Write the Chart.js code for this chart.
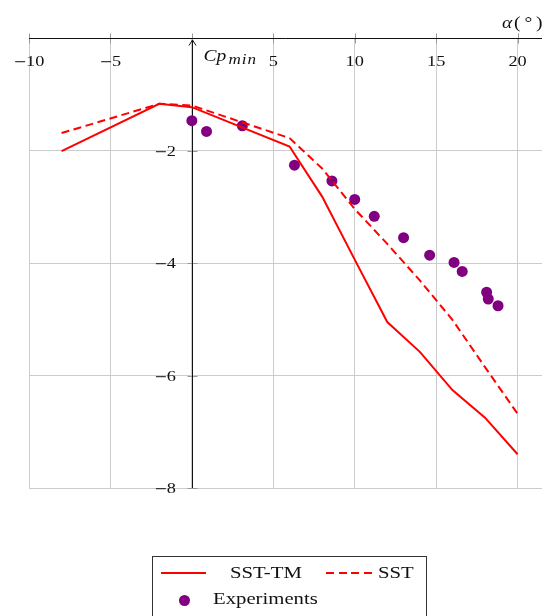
<!DOCTYPE html>
<html lang="en">

<head>
    <meta charset="utf-8">
    <title>Cp min vs angle of attack</title>
    <script src="https://cdn.jsdelivr.net/npm/chart.js"></script>
    <style>
        body { margin: 0; background: #fff; }
        #wrap { position: relative; width: 542px; height: 616px; overflow: hidden; }
        #legend { position: absolute; left: 152px; top: 556px; width: 275px; height: 90px; border: 1px solid #333; box-sizing: border-box; }
        .lg-text { position: absolute; font-family: "Liberation Serif", serif; font-size: 17px; line-height: 17px; color: #111; white-space: nowrap; transform: scaleX(1.22); transform-origin: left center; }
        .lg-solid { position: absolute; height: 2px; background: #ff0000; }
        .lg-dash { position: absolute; height: 2px; background: repeating-linear-gradient(to right, #ff0000 0 8px, transparent 8px 12.5px); }
        .lg-dot { position: absolute; width: 11px; height: 11px; border-radius: 50%; background: #800080; }
    </style>
</head>

<body>
    <div id="wrap">
        <canvas id="cpChart" width="542" height="616"></canvas>
        <div id="legend"></div>
        <div class="lg-solid" style="left:161px; top:572px; width:45px;"></div>
        <span class="lg-text" style="left:230px; top:564px;">SST-TM</span>
        <div class="lg-dash" style="left:326px; top:572px; width:47px;"></div>
        <span class="lg-text" style="left:378px; top:564px;">SST</span>
        <div class="lg-dot" style="left:178.5px; top:595px;"></div>
        <span class="lg-text" style="left:213px; top:590px;">Experiments</span>
    </div>
    <script>
        // angle of attack (deg) for the two simulations
        const alphaSim = [-8, -2, 0, 6, 8, 10, 12, 14, 16, 18, 20];
        const cpSstTm = [-2.01, -1.17, -1.23, -1.93, -2.82, -3.94, -5.05, -5.58, -6.26, -6.75, -7.40];
        const cpSst = [-1.69, -1.17, -1.20, -1.78, -2.32, -3.04, -3.66, -4.31, -5.01, -5.85, -6.68];

        // experimental points
        const alphaExp = [0, 0.9, 3.1, 6.3, 8.6, 10.0, 11.2, 13.0, 14.6, 16.1, 16.6, 18.1, 18.2, 18.8];
        const cpExp = [-1.47, -1.66, -1.56, -2.26, -2.54, -2.87, -3.17, -3.55, -3.86, -3.99, -4.15, -4.52, -4.64, -4.76];

        const xTicks = [-10, -5, 0, 5, 10, 15, 20];
        const yTicks = [-8, -6, -4, -2, 0];

        const SX = 1.22; // glyphs in the figure are a bit wider than the fonts we have
        const NUM_FONT = '15px "Liberation Serif", serif';
        const MINUS_FONT = '13px "DejaVu Serif", serif'; // its minus is wide like the TeX one

        function toPoints(xs, ys) {
            return xs.map((x, i) => ({ x: x, y: ys[i] }));
        }

        function wideText(ctx, str, x, y, align) {
            ctx.save();
            ctx.translate(x, y);
            ctx.scale(SX, 1);
            ctx.textAlign = align;
            ctx.fillText(str, 0, 0);
            ctx.restore();
        }

        // tick value: minus sign and digits set in two fonts
        function tickText(ctx, v, x, y, align) {
            const num = String(Math.abs(v));
            ctx.font = NUM_FONT;
            const w = ctx.measureText(num).width * SX;
            ctx.font = MINUS_FONT;
            const mw = v < 0 ? ctx.measureText('\u2212').width * SX - 1 : 0;
            const total = w + mw;
            const left = align === 'center' ? x - total / 2 : x - total;
            if (v < 0) {
                wideText(ctx, '\u2212', left, y, 'left');
            }
            ctx.font = NUM_FONT;
            wideText(ctx, num, left + mw, y, 'left');
        }

        // axes through the origin, pgfplots style
        const middleAxes = {
            id: 'middleAxes',
            beforeDatasetsDraw(chart) {
                const { ctx, chartArea } = chart;
                const xs = chart.scales.x, ys = chart.scales.y;
                const x0 = Math.round(xs.getPixelForValue(0)) + 0.5;
                const y0 = Math.round(ys.getPixelForValue(0)) + 0.5;
                ctx.save();

                // tick marks
                ctx.strokeStyle = '#999';
                ctx.lineWidth = 1;
                ctx.beginPath();
                xTicks.forEach(v => {
                    const px = Math.round(xs.getPixelForValue(v)) + 0.5;
                    ctx.moveTo(px, y0 - 5);
                    ctx.lineTo(px, y0 + 5);
                });
                yTicks.forEach(v => {
                    if (v === 0) return;
                    const py = Math.round(ys.getPixelForValue(v)) + 0.5;
                    ctx.moveTo(x0 - 5, py);
                    ctx.lineTo(x0 + 5, py);
                });
                ctx.stroke();

                // axis lines
                ctx.strokeStyle = '#111';
                ctx.beginPath();
                ctx.moveTo(chartArea.left, y0);
                ctx.lineTo(chartArea.right, y0);
                ctx.moveTo(x0, chartArea.bottom);
                ctx.lineTo(x0, y0 + 1.5);
                ctx.stroke();
                ctx.beginPath();
                ctx.moveTo(x0 - 3.5, y0 + 7);
                ctx.lineTo(x0, y0 + 1.5);
                ctx.lineTo(x0 + 3.5, y0 + 7);
                ctx.stroke();

                // tick labels
                ctx.fillStyle = '#111';
                ctx.textBaseline = 'alphabetic';
                xTicks.forEach(v => {
                    if (v === 0) return;
                    tickText(ctx, v, xs.getPixelForValue(v), y0 + 27.5, 'center');
                });
                yTicks.forEach(v => {
                    if (v === 0) return;
                    tickText(ctx, v, x0 - 16.5, ys.getPixelForValue(v) + 5, 'right');
                });

                // axis titles
                ctx.font = 'italic 16px "Liberation Serif", serif';
                wideText(ctx, 'Cp', x0 + 11, y0 + 22.5, 'left');
                ctx.font = 'italic 14px "Liberation Serif", serif';
                ctx.letterSpacing = '0.8px';
                wideText(ctx, 'min', x0 + 36, y0 + 25.5, 'left');
                ctx.letterSpacing = '0px';
                ctx.font = 'italic 16px "Liberation Serif", serif';
                wideText(ctx, '\u03b1', 502, 27.5, 'left');
                ctx.font = '16px "Liberation Serif", serif';
                wideText(ctx, '(\u2009\u00b0\u2009)', 514, 27.5, 'left');

                ctx.restore();
            }
        };

        const ctx = document.getElementById('cpChart').getContext('2d');
        const cpChart = new Chart(ctx, {
            type: 'line',
            data: {
                datasets: [{
                    label: 'SST-TM',
                    data: toPoints(alphaSim, cpSstTm),
                    borderColor: '#ff0000',
                    borderWidth: 2,
                    pointRadius: 0,
                    fill: false
                }, {
                    label: 'SST',
                    data: toPoints(alphaSim, cpSst),
                    borderColor: '#ff0000',
                    borderWidth: 2,
                    borderDash: [8, 4.5],
                    pointRadius: 0,
                    fill: false
                }, {
                    label: 'Experiments',
                    data: toPoints(alphaExp, cpExp),
                    showLine: false,
                    pointRadius: 5.5,
                    pointBackgroundColor: '#800080',
                    pointBorderColor: '#800080',
                    pointBorderWidth: 0
                }]
            },
            options: {
                responsive: false,
                animation: false,
                devicePixelRatio: 1,
                layout: {
                    autoPadding: false,
                    padding: { left: 29, right: 0, top: 38, bottom: 128 }
                },
                plugins: {
                    legend: { display: false },
                    tooltip: { enabled: false }
                },
                scales: {
                    x: {
                        type: 'linear',
                        min: -10,
                        max: 21.5,
                        border: { display: false },
                        grid: { color: '#cccccc', lineWidth: 1, drawTicks: false },
                        ticks: { display: false, stepSize: 5, includeBounds: false }
                    },
                    y: {
                        type: 'linear',
                        min: -8,
                        max: 0,
                        border: { display: false },
                        grid: { color: '#cccccc', lineWidth: 1, drawTicks: false },
                        ticks: { display: false, stepSize: 2 }
                    }
                }
            },
            plugins: [middleAxes]
        });
    </script>
</body>

</html>
